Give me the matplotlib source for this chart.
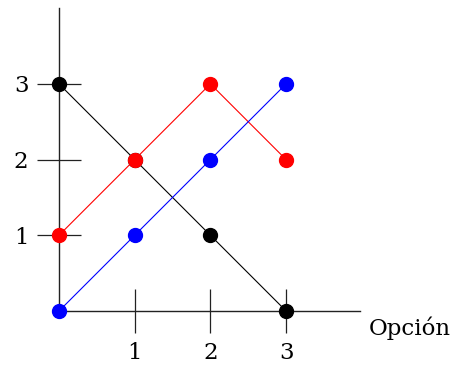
import matplotlib
matplotlib.use("Agg")
import matplotlib.pyplot as plt

x = [0, 1, 2, 3]
black_y = [3, 2, 1, 0]
red_y = [1, 2, 3, 2]
blue_y = [0, 1, 2, 3]
xticks = [1, 2, 3]
yticks = [1, 2, 3]
xlabel = "Opción"

plt.rcParams['font.family'] = ['DejaVu Serif']

W, H = 457, 367
fig = plt.figure(figsize=(W / 100, H / 100), dpi=100)
ox, oy = 59, 311
unit = 75.7
ax = fig.add_axes([ox / W, (H - oy) / H, (360 - ox) / W, (oy - 8) / H])
ax.set_xlim(0, (360 - ox) / unit)
ax.set_ylim(0, (oy - 8) / unit)

for s in ['top', 'right']:
    ax.spines[s].set_visible(False)
for s in ['left', 'bottom']:
    ax.spines[s].set_linewidth(1.0)
    ax.spines[s].set_color('#222222')

ax.set_xticks(xticks)
ax.set_yticks(yticks)
ax.tick_params(direction='inout', length=32, width=0.9, color='#222222',
               labelsize=16.5, pad=6)
ax.tick_params(axis='x', pad=6)

series = [(black_y, 'black'), (red_y, 'red'), (blue_y, 'blue')]
for ys, c in series:
    ax.plot(x, ys, color=c, lw=0.8, zorder=3, clip_on=False)
for ys, c in series:
    ax.plot(x, ys, 'o', color=c, ms=10, zorder=4, clip_on=False)

ax.text(410 / W, (H - 328) / H, xlabel, transform=fig.transFigure,
        ha='center', va='center', fontsize=16.5)

fig.savefig("out.png", dpi=100)
